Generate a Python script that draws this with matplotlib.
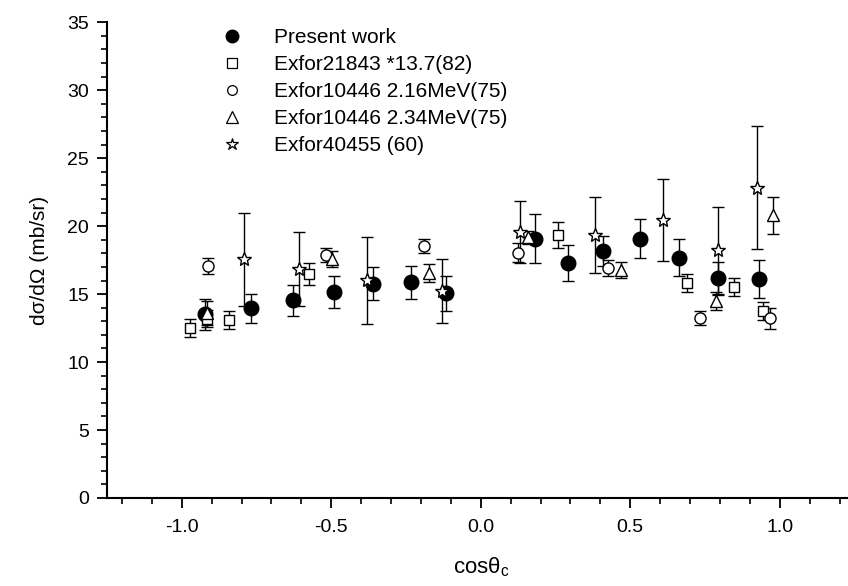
import matplotlib
matplotlib.use("Agg")
import matplotlib.pyplot as plt
from matplotlib.lines import Line2D
from matplotlib.ticker import MultipleLocator

plt.rcParams['font.family'] = ['Liberation Sans', 'DejaVu Sans']
plt.rcParams['mathtext.fontset'] = 'custom'
plt.rcParams['mathtext.rm'] = 'Liberation Sans'
plt.rcParams['mathtext.it'] = 'Liberation Sans'

# Present work
pw_x = [-0.923, -0.770, -0.628, -0.491, -0.360, -0.235, -0.115, 0.181, 0.292, 0.409, 0.534, 0.662, 0.794, 0.931]
pw_y = [13.5, 13.95, 14.56, 15.17, 15.78, 15.88, 15.05, 19.09, 17.30, 18.18, 19.09, 17.67, 16.15, 16.10]
pw_e = [1.15, 1.07, 1.14, 1.16, 1.2, 1.22, 1.29, 1.78, 1.31, 1.1, 1.45, 1.37, 1.2, 1.4]

# Exfor21843 *13.7 (82)
sq_x = [-0.973, -0.916, -0.842, -0.574, 0.259, 0.689, 0.847, 0.944]
sq_y = [12.52, 13.2, 13.09, 16.49, 19.34, 15.79, 15.54, 13.75]
sq_e = [0.65, 0.6, 0.66, 0.8, 0.93, 0.67, 0.67, 0.65]

# Exfor10446 2.16 MeV (75)
ci_x = [-0.912, -0.516, -0.191, 0.124, 0.424, 0.733, 0.967]
ci_y = [17.06, 17.87, 18.53, 18.04, 16.94, 13.26, 13.21]
ci_e = [0.6, 0.5, 0.5, 0.7, 0.6, 0.5, 0.8]

# Exfor10446 2.34 MeV (75)
tr_x = [-0.914, -0.497, -0.173, 0.158, 0.470, 0.788, 0.978]
tr_y = [13.6, 17.57, 16.57, 19.17, 16.76, 14.49, 20.8]
tr_e = [0.9, 0.6, 0.67, 0.5, 0.6, 0.65, 1.36]

# Exfor40455 (60)
st_x = [-0.793, -0.609, -0.382, -0.129, 0.130, 0.382, 0.610, 0.794, 0.924]
st_y = [17.55, 16.84, 16.03, 15.25, 19.58, 19.34, 20.44, 18.24, 22.84]
st_e = [3.4, 2.75, 3.2, 2.36, 2.26, 2.8, 3.0, 3.2, 4.5]

labels = ['Present work', 'Exfor21843 *13.7(82)', 'Exfor10446 2.16MeV(75)',
          'Exfor10446 2.34MeV(75)', 'Exfor40455 (60)']

fig = plt.figure(figsize=(8.48, 5.86), dpi=100)
ax = fig.add_axes([0.1262, 0.1502, 0.8815, 0.8118])

ebkw = dict(ls='none', ecolor='black', elinewidth=1.0, capsize=4.5, capthick=1.0, mec='black', mew=1.0)
ax.errorbar(pw_x, pw_y, yerr=pw_e, marker='o', ms=10.5, mfc='black', **ebkw)
ax.errorbar(sq_x, sq_y, yerr=sq_e, marker='s', ms=7.5, mfc='white', **ebkw)
ax.errorbar(ci_x, ci_y, yerr=ci_e, marker='o', ms=8, mfc='white', **ebkw)
ax.errorbar(tr_x, tr_y, yerr=tr_e, marker='^', ms=9, mfc='white', **ebkw)
ax.errorbar(st_x, st_y, yerr=st_e, marker='*', ms=10, mfc='white', **ebkw)

handles = [
    Line2D([], [], ls='none', marker='o', ms=9, mfc='black', mec='black'),
    Line2D([], [], ls='none', marker='s', ms=7, mfc='white', mec='black', mew=0.9),
    Line2D([], [], ls='none', marker='o', ms=7, mfc='white', mec='black', mew=0.9),
    Line2D([], [], ls='none', marker='^', ms=8, mfc='white', mec='black', mew=0.9),
    Line2D([], [], ls='none', marker='*', ms=9, mfc='white', mec='black', mew=0.9),
]
ax.legend(handles, labels, loc='upper left', bbox_to_anchor=(0.249, 0.970),
          bbox_transform=fig.transFigure, frameon=False, fontsize=15,
          handlelength=1.0, handletextpad=1.54, labelspacing=0.39, borderpad=0)

ax.set_xlim(-1.25, 1.25)
ax.set_ylim(0, 35)
ax.xaxis.set_major_locator(MultipleLocator(0.5))
ax.xaxis.set_minor_locator(MultipleLocator(0.1))
ax.yaxis.set_major_locator(MultipleLocator(5))
ax.yaxis.set_minor_locator(MultipleLocator(1))
ax.set_xticks([-1.0, -0.5, 0.0, 0.5, 1.0])
ax.set_xticklabels(['-1.0', '-0.5', '0.0', '0.5', '1.0'])
ax.spines['top'].set_visible(False)
ax.spines['right'].set_visible(False)
for s in ['left', 'bottom']:
    ax.spines[s].set_linewidth(1.5)
ax.tick_params(which='major', length=7, width=1.3, labelsize=14, pad=6)
ax.tick_params(axis='x', which='major', pad=8)
ax.tick_params(which='minor', length=4, width=1.2)

ax.set_xlabel(r'cosθ$_\mathrm{c}$', fontsize=16, labelpad=14)
ax.set_ylabel('dσ/dΩ (mb/sr)', fontsize=15, labelpad=13)

fig.savefig('out.png', dpi=100)
